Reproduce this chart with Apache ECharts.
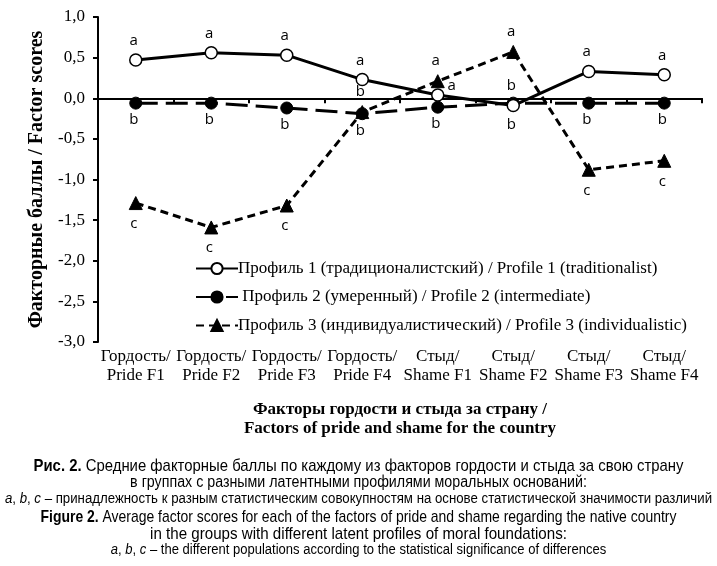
<!DOCTYPE html>
<html>
<head>
<meta charset="utf-8">
<script src="https://cdn.jsdelivr.net/npm/echarts@6/dist/echarts.min.js"></script>
<style>html,body{margin:0;padding:0;background:#fff;}#c{width:717px;height:566px;}</style>
</head>
<body>
<div id="c"></div>
<script>
const categories = ['Гордость/\nPride F1','Гордость/\nPride F2','Гордость/\nPride F3','Гордость/\nPride F4','Стыд/\nShame F1','Стыд/\nShame F2','Стыд/\nShame F3','Стыд/\nShame F4'];
const seriesNames = ['Профиль 1 (традиционалистский) / Profile 1 (traditionalist)',' Профиль 2 (умеренный) / Profile 2 (intermediate)','Профиль 3 (индивидуалистический) / Profile 3 (individualistic)'];
const profile1 = [0.47, 0.56, 0.53, 0.23, 0.04, -0.09, 0.33, 0.29];
const profile2 = [-0.06, -0.06, -0.12, -0.19, -0.11, -0.06, -0.06, -0.06];
const profile3 = [-1.29, -1.59, -1.32, -0.17, 0.21, 0.57, -0.88, -0.77];
const letters1 = ['a','a','a','a','a','b','a','a'];
const letters2 = ['b','b','b','b','b','b','b','b'];
const letters3 = ['c','c','c','b','a','a','c','c'];

// label placement (style)
const place1 = ['top','top','top','top','right','bottom','top','top'];
const place2 = ['bottom','bottom','bottom','bottom','bottom','top','bottom','bottom'];
const place3 = ['bottom','bottom','bottom','top','top','top','bottom','bottom'];

const labelFont = {fontFamily:'Open Sans, sans-serif', fontSize:15, color:'#000'};
function build(vals, lets, places, dist){
  return vals.map((v,i)=>({
    value:v,
    label:Object.assign({show:true, formatter:lets[i], position:places[i], distance:dist,
      offset: places[i]==='right' ? [-2,-9] : [-2,0]}, labelFont)
  }));
}

const chart = echarts.init(document.getElementById('c'));
const serif = 'Liberation Serif, Times New Roman, serif';
const sans = 'Liberation Sans, Arial, sans-serif';
function cap(y, text, size, sx, rich){
  return {type:'text', x:358.5, y:y, scaleX:sx, style:{
    text:text, x:0, y:0, textAlign:'center', textVerticalAlign:'middle',
    font:size+'px '+sans, fill:'#000', rich:rich}};
}
const richB = {b:{fontWeight:'bold', fontFamily:sans, fontSize:17}};
const richI = {i:{fontStyle:'italic', fontFamily:sans, fontSize:14}};
chart.setOption({
  animation:false,
  backgroundColor:'#fff',
  grid:{left:98, right:15, top:17, bottom:224},
  legend:{
    orient:'vertical', left:190, top:255, itemWidth:42, itemHeight:14, itemGap:11.5,
    textStyle:{fontFamily:serif, fontSize:17, color:'#000', padding:[0,0,0,-5]},
    data:seriesNames
  },
  xAxis:{
    type:'category', data:categories, boundaryGap:true,
    axisLine:{lineStyle:{color:'#000', width:2}},
    axisTick:{show:true, length:5, lineStyle:{color:'#000', width:2}},
    axisLabel:{fontFamily:serif, fontSize:17, color:'#000', margin:5, lineHeight:19, interval:0},
    name:'Факторы гордости и стыда за страну /\nFactors of pride and shame for the country',
    nameLocation:'middle', nameGap:58,
    nameTextStyle:{fontFamily:serif, fontSize:17, fontWeight:'bold', color:'#000', lineHeight:19}
  },
  yAxis:{
    type:'value', min:-3, max:1, interval:0.5,
    axisLine:{show:true, lineStyle:{color:'#000', width:2}},
    axisTick:{show:true, length:5, lineStyle:{color:'#000', width:2}},
    splitLine:{show:false},
    axisLabel:{fontFamily:serif, fontSize:17, color:'#000', margin:13,
      formatter:v=>v.toFixed(1).replace('.',',')},
    name:'Факторные баллы / Factor scores', nameLocation:'middle', nameGap:30,
    nameTextStyle:{fontFamily:serif, fontSize:20, fontWeight:'bold', color:'#000'}
  },
  series:[
    {name:seriesNames[0], type:'line', data:build(profile1, letters1, place1, 5), z:4,
      symbol:'circle', symbolSize:12,
      lineStyle:{color:'#000', width:3},
      itemStyle:{color:'#fff', borderColor:'#000', borderWidth:1.5}},
    {name:seriesNames[1], type:'line', data:build(profile2, letters2, place2, 3), z:3,
      symbol:'circle', symbolSize:12,
      lineStyle:{color:'#000', width:3, type:[22,8]},
      itemStyle:{color:'#000', borderColor:'#000', borderWidth:1}},
    {name:seriesNames[2], type:'line', data:build(profile3, letters3, place3, 6), z:2,
      symbol:'triangle', symbolSize:13,
      lineStyle:{color:'#000', width:3, type:[8,5]},
      itemStyle:{color:'#000', borderColor:'#000', borderWidth:1}}
  ],
  graphic:[
    cap(466, '{b|Рис. 2.} Средние факторные баллы по каждому из факторов гордости и стыда за свою страну', 17, 0.876, richB),
    cap(483, 'в группах с разными латентными профилями моральных оснований:', 16, 0.89, null),
    cap(499, '{i|a}, {i|b}, {i|c} – принадлежность к разным статистическим совокупностям на основе статистической значимости различий', 14, 0.945, richI),
    cap(517, '{b|Figure 2.} Average factor scores for each of the factors of pride and shame regarding the native country', 17, 0.82, richB),
    cap(534, 'in the groups with different latent profiles of moral foundations:', 17, 0.89, null),
    cap(550, '{i|a}, {i|b}, {i|c} – the different populations according to the statistical significance of differences', 14, 0.93, richI)
  ]
});
</script>
</body>
</html>
